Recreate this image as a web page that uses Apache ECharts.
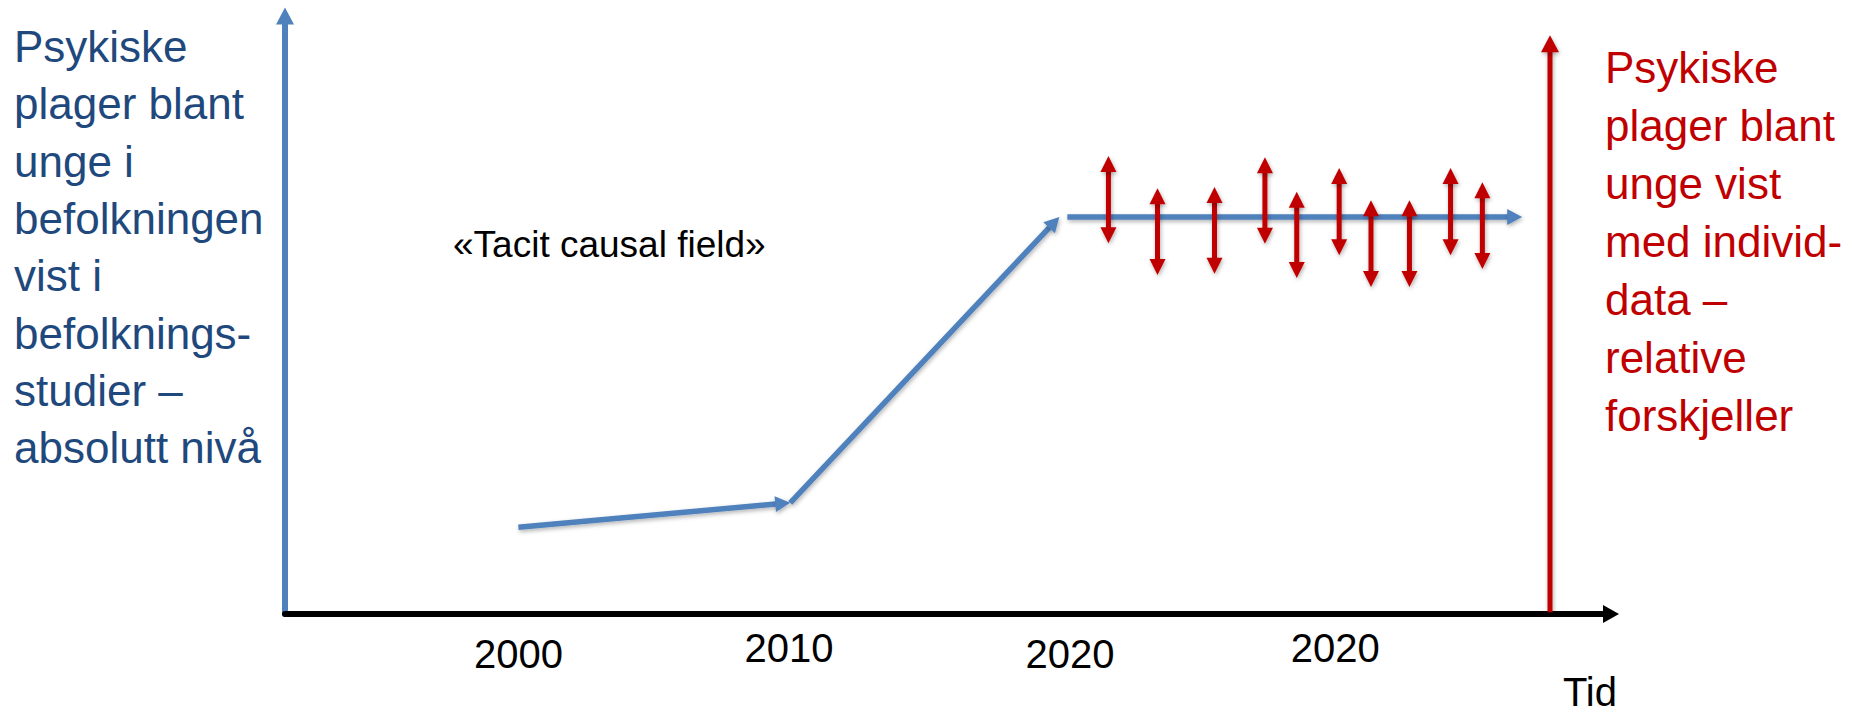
<!DOCTYPE html>
<html>
<head>
<meta charset="utf-8">
<script src="https://cdn.jsdelivr.net/npm/echarts@6/dist/echarts.min.js"></script>
<style>
  html, body { margin: 0; padding: 0; background: #ffffff; }
  #chart { width: 1853px; height: 716px; }
</style>
</head>
<body>
<div id="chart"></div>
<script>
// ---- data (conceptual time units 0..100, level units 0..100) ----
const tickPositions = [17.6, 38.0, 59.2, 79.2];
const tickLabels = ['2000', '2010', '2020', '2020'];
const axisName = 'Tid';

// blue population trend: segments [x1, y1, x2, y2]
const trendSegments = [
  [17.6, 14.5, 38.1, 18.6],
  [38.1, 18.6, 58.4, 66.4],
  [59.0, 66.4, 93.3, 66.4]
];

// red individual-level variation arrows
const varX      = [62.1, 65.8, 70.1, 73.9, 76.3, 79.5, 81.9, 84.8, 87.9, 90.3];
const varTop    = [76.6, 71.2, 71.4, 76.4, 70.6, 74.6, 69.2, 69.2, 74.6, 72.2];
const varBottom = [62.0, 56.7, 56.9, 61.9, 56.2, 60.0, 54.7, 54.7, 60.0, 57.7];

// red right-hand axis
const redAxisX = 95.4;
const redAxisRange = [0.3, 96.8];

const leftTitleLines = ['Psykiske', 'plager blant', 'unge i', 'befolkningen', 'vist i',
  'befolknings-', 'studier \u2013', 'absolutt niv\u00e5'];
const rightTitleLines = ['Psykiske', 'plager blant', 'unge vist', 'med individ-', 'data \u2013',
  'relative', 'forskjeller'];
const annotation = '\u00abTacit causal field\u00bb';

const BLUE = '#4F81BD';
const RED = '#C00000';
const FONT = '"Liberation Sans", Arial, sans-serif';

function arrowRenderer(color, lineW, headLen, headHalf) {
  return function (params, api) {
    const p1 = api.coord([api.value(0), api.value(1)]);
    const p2 = api.coord([api.value(2), api.value(3)]);
    const both = api.value(4) === 2;
    const dx = p2[0] - p1[0], dy = p2[1] - p1[1];
    const len = Math.sqrt(dx * dx + dy * dy) || 1;
    const ux = dx / len, uy = dy / len;
    const nx = -uy, ny = ux;
    const hw = lineW / 2;
    const shadow = { shadowBlur: 4, shadowColor: 'rgba(0,0,0,0.3)', shadowOffsetX: 1, shadowOffsetY: 2 };
    const s = both ? [p1[0] + ux * headLen * 0.8, p1[1] + uy * headLen * 0.8] : p1;
    const e = [p2[0] - ux * headLen * 0.8, p2[1] - uy * headLen * 0.8];
    const children = [{
      type: 'polygon',
      shape: { points: [
        [s[0] + nx * hw, s[1] + ny * hw], [e[0] + nx * hw, e[1] + ny * hw],
        [e[0] - nx * hw, e[1] - ny * hw], [s[0] - nx * hw, s[1] - ny * hw]
      ] },
      style: Object.assign({ fill: color }, shadow)
    }];
    function head(tip, dirx, diry) {
      const bx = tip[0] - dirx * headLen, by = tip[1] - diry * headLen;
      return {
        type: 'polygon',
        shape: { points: [tip, [bx + nx * headHalf, by + ny * headHalf], [bx - nx * headHalf, by - ny * headHalf]] },
        style: Object.assign({ fill: color }, shadow)
      };
    }
    children.push(head(p2, ux, uy));
    if (both) children.push(head(p1, -ux, -uy));
    return { type: 'group', children: children };
  };
}

const trendData = trendSegments.map(s => [s[0], s[1], s[2], s[3], 1]);
const varData = varX.map((x, i) => [x, varBottom[i], x, varTop[i], 2]);
const redAxisData = [[redAxisX, redAxisRange[0], redAxisX, redAxisRange[1], 1]];

const chart = echarts.init(document.getElementById('chart'), null, { renderer: 'svg' });
chart.setOption({
  backgroundColor: '#ffffff',
  animation: false,
  grid: { left: 285, right: 242, top: 16, bottom: 102 },
  xAxis: {
    type: 'value', min: 0, max: 100,
    name: axisName, nameLocation: 'end', nameGap: 6,
    nameTextStyle: { fontFamily: FONT, fontSize: 40, color: '#000', align: 'right', verticalAlign: 'top', padding: [58, 0, 0, 0] },
    axisLine: { show: true, symbol: ['none', 'triangle'], symbolSize: [18, 16], lineStyle: { color: '#000', width: 6 } },
    axisTick: { show: false },
    splitLine: { show: false },
    axisLabel: {
      show: true, customValues: tickPositions, margin: 14,
      formatter: function (v) {
        const i = tickPositions.indexOf(v);
        const t = i >= 0 ? tickLabels[i] : '';
        return (i % 2 === 0 ? '{lo|' : '{hi|') + t + '}';
      },
      rich: {
        lo: { fontFamily: FONT, fontSize: 40, color: '#000', padding: [6, 0, 0, 0] },
        hi: { fontFamily: FONT, fontSize: 40, color: '#000' }
      }
    }
  },
  yAxis: {
    type: 'value', min: 0, max: 100,
    axisLine: { show: true, symbol: ['none', 'triangle'], symbolSize: [18, 17], lineStyle: { color: BLUE, width: 6 } },
    axisTick: { show: false }, axisLabel: { show: false }, splitLine: { show: false }
  },
  series: [
    { type: 'custom', name: 'redAxis', clip: false, renderItem: arrowRenderer(RED, 5, 17, 9), data: redAxisData, z: 3 },
    { type: 'custom', name: 'trend', clip: false, renderItem: arrowRenderer(BLUE, 5.5, 15, 8), data: trendData, z: 4 },
    { type: 'custom', name: 'variation', clip: false, renderItem: arrowRenderer(RED, 5, 16, 8), data: varData, z: 5 }
  ],
  graphic: [
    { type: 'text', left: 14, top: 18, style: { text: leftTitleLines.join('\n'), font: '44px ' + FONT, fill: '#1F497D', lineHeight: 57.3 } },
    { type: 'text', left: 1605, top: 38, style: { text: rightTitleLines.join('\n'), font: '44px ' + FONT, fill: RED, lineHeight: 58 } },
    { type: 'text', left: 453, top: 226, style: { text: annotation, font: '37px ' + FONT, fill: '#000' } }
  ]
});
</script>
</body>
</html>
